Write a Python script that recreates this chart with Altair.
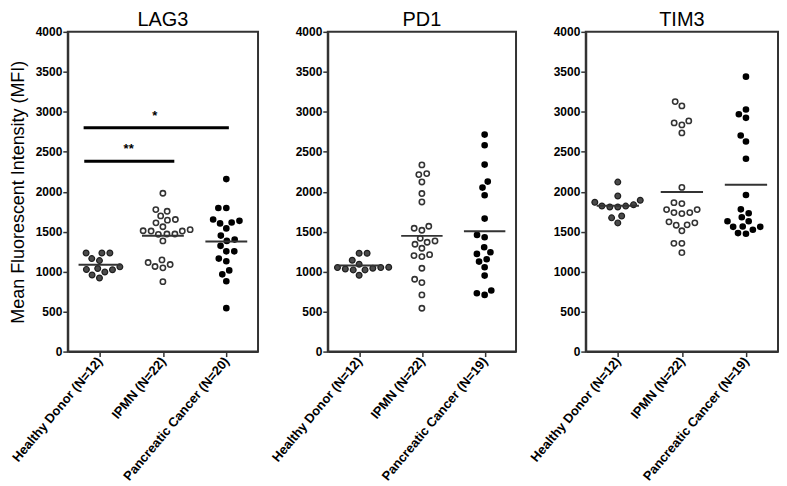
import altair as alt
import pandas as pd
import numpy as np

# ---------------- data ----------------
panels = ["LAG3", "PD1", "TIM3"]
groups = ["Healthy Donor", "IPMN", "Pancreatic Cancer"]

lag3_healthy = [1233, 1233, 1233, 1163, 1138, 1060, 1028, 1040, 1023, 995, 958, 921]
lag3_ipmn = [1981, 1776, 1755, 1697, 1652, 1644, 1611, 1562, 1525, 1512, 1508, 1508,
             1471, 1471, 1467, 1385, 1114, 1064, 1048, 1089, 1147, 875]
lag3_cancer = [2158, 1796, 1796, 1652, 1615, 1603, 1636, 1541, 1451, 1401, 1385, 1323,
               1254, 1254, 1163, 1130, 1015, 966, 880, 543]

pd1_healthy = [1230, 1230, 1143, 1093, 1051, 1043, 1022, 955, 1022, 1034, 1051, 1055]
pd1_ipmn = [2335, 2227, 2214, 2122, 1977, 1872, 1568, 1543, 1518, 1418, 1384, 1368,
            1343, 1293, 1213, 1188, 1201, 1043, 863, 905, 709, 542]
pd1_cancer = [2715, 2581, 2339, 2127, 2052, 1956, 1664, 1430, 1460, 1305, 1222, 1243,
              1126, 1155, 1055, 951, 764, 709, 730]

tim3_healthy = [2120, 1946, 1867, 1892, 1820, 1809, 1809, 1822, 1838, 1697, 1673, 1610]
tim3_ipmn = [3127, 3073, 2861, 2836, 2886, 2736, 2054, 1863, 1851, 1776, 1739, 1726,
             1739, 1776, 1586, 1623, 1581, 1611, 1511, 1354, 1354, 1238]
tim3_cancer = [3439, 3028, 2924, 2969, 2703, 2628, 2412, 1959, 1780, 1731, 1681, 1631,
               1631, 1561, 1524, 1474, 1482, 1561, 1565]

panel_values = {
    "LAG3": [lag3_healthy, lag3_ipmn, lag3_cancer],
    "PD1": [pd1_healthy, pd1_ipmn, pd1_cancer],
    "TIM3": [tim3_healthy, tim3_ipmn, tim3_cancer],
}

# significance annotations (LAG3 only): start, end, height, label
sig_start = [-0.24, -0.25]
sig_end = [1.18, 2.04]
sig_height = [2380, 2800]
sig_label = ["**", "*"]
sig_label_x = [0.46, 0.87]

# ---------------- layout constants ----------------
H = 321
WIDTHS = {"LAG3": 191, "PD1": 189, "TIM3": 193}
YMAX = 4000
DOT = 8.0  # swarm spacing in px
FONT = "Liberation Sans"


def swarm(values, px_per_val, d):
    """Simple beeswarm: place each point as close to the centre as possible."""
    vals = np.asarray(values, dtype=float)
    order = np.argsort(vals, kind="stable")
    placed = []
    offs = np.zeros(len(vals))
    for i in order:
        y = vals[i] * px_per_val
        cands = [0.0]
        for (xj, yj) in placed:
            dy = abs(y - yj)
            if dy < d:
                dx = np.sqrt(d * d - dy * dy)
                cands += [xj + dx, xj - dx]
        cands.sort(key=lambda c: (round(abs(c), 6), c))
        for c in cands:
            if all((c - xj) ** 2 + (y - yj) ** 2 >= d * d - 1e-6 for xj, yj in placed):
                offs[i] = c
                placed.append((c, y))
                break
    return offs


def make_panel(name, first):
    W = WIDTHS[name]
    px_per_unit = W / 3.0
    rows = []
    labels = []
    for gi, vals in enumerate(panel_values[name]):
        labels.append(f"{groups[gi]} (N={len(vals)})")
        offs = swarm(vals, H / YMAX, DOT)
        for v, o in zip(vals, offs):
            rows.append({"gi": gi, "group": groups[gi], "value": v,
                         "xpos": gi + o / px_per_unit})
    df = pd.DataFrame(rows)

    label_expr = "[" + ",".join("'" + l + "'" for l in labels) + "][datum.value]"

    x_axis = alt.Axis(values=[0, 1, 2], labelExpr=label_expr, labelAngle=-50,
                      labelFont=FONT, labelFontWeight="bold", labelFontSize=13,
                      labelColor="black", tickColor="#333", tickSize=5, tickWidth=1.5,
                      domainColor="#333", domainWidth=2, grid=False, title=None,
                      labelPadding=2, labelOverlap=False, labelBound=False)
    y_axis = alt.Axis(values=list(range(0, 4001, 500)), format="d", labelFont=FONT,
                      labelFontWeight="bold", labelFontSize=12, labelColor="black",
                      tickColor="#333", tickSize=5, tickWidth=1.5, domainColor="#333",
                      domainWidth=2, grid=False, labelPadding=1,
                      title="Mean Fluorescent Intensity  (MFI)" if first else None,
                      titleFont=FONT, titleFontSize=18, titleFontWeight="normal",
                      titleColor="black", titlePadding=8)

    xs = alt.Scale(domain=[-0.5, 2.5], nice=False, zero=False)
    ys = alt.Scale(domain=[0, YMAX], nice=False)

    base = alt.Chart(df)
    pts = base.mark_point(filled=False, opacity=1).encode(
        x=alt.X("xpos:Q", scale=xs, axis=x_axis),
        y=alt.Y("value:Q", scale=ys, axis=y_axis),
        fill=alt.Fill("group:N", scale=alt.Scale(domain=groups,
                      range=["#4a4a4a", "#ffffff", "#000000"]), legend=None),
        stroke=alt.Stroke("group:N", scale=alt.Scale(domain=groups,
                          range=["#1e1e1e", "#333333", "#000000"]), legend=None),
        strokeWidth=alt.StrokeWidth("group:N", scale=alt.Scale(domain=groups,
                                    range=[1.2, 2.0, 0.5]), legend=None),
        size=alt.Size("group:N", scale=alt.Scale(domain=groups, range=[34, 22, 44]),
                      legend=None),
        shape=alt.value("circle"),
    )

    means = base.transform_aggregate(
        mean_v="mean(value)", groupby=["gi"]
    ).transform_calculate(
        x1="datum.gi - 0.33", x2="datum.gi + 0.33"
    ).mark_rule(color="#333333", strokeWidth=2).encode(
        x=alt.X("x1:Q", scale=xs), x2="x2:Q", y=alt.Y("mean_v:Q", scale=ys)
    )

    title = alt.Chart(pd.DataFrame({"t": [name]})).mark_text(
        font=FONT, fontSize=20, fontWeight="normal", color="black",
        baseline="top", align="center", clip=False,
    ).encode(text="t:N", x=alt.value(W / 2), y=alt.value(-22))

    layers = [pts, means, title]
    if name == "LAG3":
        sdf = pd.DataFrame({"s": sig_start, "e": sig_end, "h": sig_height,
                            "lab": sig_label, "lx": sig_label_x})
        bars = alt.Chart(sdf).mark_rule(color="black", strokeWidth=3).encode(
            x=alt.X("s:Q", scale=xs), x2="e:Q", y=alt.Y("h:Q", scale=ys))
        stars = alt.Chart(sdf).mark_text(font=FONT, fontWeight="bold", fontSize=13,
                                         baseline="alphabetic", dy=-8, color="black").encode(
            x=alt.X("lx:Q", scale=xs), y=alt.Y("h:Q", scale=ys), text="lab:N")
        layers += [bars, stars]

    return alt.layer(*layers).properties(width=W, height=H)


chart = alt.hconcat(
    make_panel("LAG3", True), make_panel("PD1", False), make_panel("TIM3", False),
    spacing=70, bounds="flush",
).configure(
    padding={"top": 0, "left": 0, "right": 0, "bottom": 0}
).configure_view(stroke="#333333", strokeWidth=2)

chart.save("out.html", embed_options={"renderer": "svg", "actions": False})
